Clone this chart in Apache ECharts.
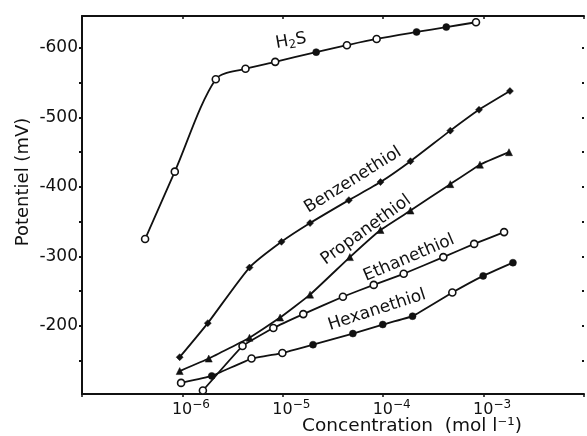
<!DOCTYPE html>
<html>
<head>
<meta charset="utf-8">
<script src="https://cdn.jsdelivr.net/npm/echarts@6/dist/echarts.min.js"></script>
<style>html,body{margin:0;padding:0;background:#fff;}#c{width:587px;height:436px;}</style>
</head>
<body>
<div id="c"></div>
<script>
// ---- data (concentration in mol/l, potential in mV) ----
const concH2S = [4.25e-7, 8.4e-7, 2.15e-6, 4.25e-6, 8.4e-6, 2.15e-5, 4.35e-5, 8.6e-5, 2.15e-4, 4.25e-4, 8.4e-4];
const potH2S  = [-325, -422, -555, -570, -580, -594, -604, -613, -623, -630, -637];

const concBenz = [9.4e-7, 1.79e-6, 4.66e-6, 9.7e-6, 1.87e-5, 4.55e-5, 9.4e-5, 1.87e-4, 4.66e-4, 9.0e-4, 1.83e-3];
const potBenz  = [-155, -204, -284, -321, -348, -381, -407, -437, -481, -511, -538];

const concProp = [9.4e-7, 1.83e-6, 4.66e-6, 9.4e-6, 1.87e-5, 4.66e-5, 9.4e-5, 1.87e-4, 4.66e-4, 9.2e-4, 1.79e-3];
const potProp  = [-135, -153, -183, -212, -245, -299, -338, -366, -404, -432, -450];

const concEth = [1.6e-6, 3.97e-6, 8.05e-6, 1.6e-5, 3.97e-5, 8.05e-5, 1.6e-4, 3.97e-4, 8.05e-4, 1.6e-3];
const potEth  = [-107, -171, -197, -217, -242, -259, -275, -299, -318, -335];

const concHex = [9.7e-7, 1.96e-6, 4.88e-6, 9.9e-6, 2.0e-5, 4.99e-5, 9.9e-5, 1.96e-4, 4.88e-4, 9.9e-4, 1.96e-3];
const potHex  = [-118, -128, -153, -161, -173, -189, -202, -214, -248, -272, -291];

const xTickExponents = [-6, -5, -4, -3];
const yLabelValues = [-600, -500, -400, -300, -200];
const yTickValues = [-600, -550, -500, -450, -400, -350, -300, -250, -200, -150];

const seriesNames = ['H\u2082S', 'Benzenethiol', 'Propanethiol', 'Ethanethiol', 'Hexanethiol'];
const xTitle = 'Concentration  (mol l\u207B\u00B9)';
const yTitle = 'Potentiel (mV)';

// ---- build ----
const FONT = 'DejaVu Sans';
const INK = '#111';

function pts(conc, pot, openIdx, symbol) {
  return conc.map((c, i) => {
    const open = openIdx.indexOf(i) >= 0;
    return {
      value: [c, pot[i]],
      symbol: open ? 'circle' : symbol,
      itemStyle: open ? {color: '#fff', borderColor: INK, borderWidth: 1.6}
                      : {color: INK, borderColor: INK, borderWidth: 0.5}
    };
  });
}

function lineSeries(name, data, smooth, size) {
  return {
    name: name, type: 'line', data: data, smooth: smooth,
    symbolSize: size, showSymbol: true,
    lineStyle: {color: INK, width: 1.8},
    itemStyle: {color: INK},
    emphasis: {disabled: true}, animation: false, z: 3
  };
}

const chart = echarts.init(document.getElementById('c'), null, {renderer: 'canvas'});

const axisLineStyle = {color: INK, width: 2};

chart.setOption({
  animation: false,
  backgroundColor: '#fff',
  grid: {left: 82, right: 0, top: 16, bottom: 42, containLabel: false},
  xAxis: [{
    type: 'log', logBase: 10, min: 1e-7, max: 1e-2, position: 'bottom',
    axisLine: {show: true, lineStyle: axisLineStyle},
    axisTick: {show: true, inside: false, length: 3, lineStyle: {color: INK, width: 1.5}},
    splitLine: {show: false}, minorTick: {show: false},
    axisLabel: {
      show: true, margin: 5, color: INK, fontFamily: FONT, fontSize: 16,
      padding: [0, 0, 0, 17],
      formatter: function (v) {
        const e = Math.round(Math.log10(v));
        if (xTickExponents.indexOf(e) < 0) return '';
        return '10{s|' + String(e).replace('-', '\u2212') + '}';
      },
      rich: {s: {fontSize: 12, fontFamily: FONT, color: INK, padding: [0, 0, 9, 0]}}
    }
  }, {
    type: 'log', logBase: 10, min: 1e-7, max: 1e-2, position: 'top',
    axisLine: {show: true, lineStyle: axisLineStyle},
    axisTick: {show: true, inside: true, length: 3, lineStyle: {color: INK, width: 1.5}},
    axisLabel: {show: false}, splitLine: {show: false}
  }],
  yAxis: [{
    type: 'value', inverse: true, min: -646, max: -102, position: 'left',
    axisLine: {show: true, lineStyle: axisLineStyle},
    axisTick: {show: true, inside: false, length: 3, customValues: yTickValues, lineStyle: {color: INK, width: 2}},
    splitLine: {show: false},
    axisLabel: {
      show: true, customValues: yLabelValues, margin: 4, color: INK, fontFamily: FONT, fontSize: 17
    }
  }, {
    type: 'value', inverse: true, min: -646, max: -102, position: 'right',
    axisLine: {show: false},
    axisTick: {show: true, inside: true, length: 2, customValues: yTickValues, lineStyle: {color: INK, width: 2}},
    axisLabel: {show: false}, splitLine: {show: false}
  }],
  series: [
    lineSeries(seriesNames[0], pts(concH2S, potH2S, [0, 1, 2, 3, 4, 6, 7, 10], 'circle'), 0.3, 7),
    lineSeries(seriesNames[1], pts(concBenz, potBenz, [], 'diamond'), 0.2, 7),
    lineSeries(seriesNames[2], pts(concProp, potProp, [], 'triangle'), 0.1, 7),
    lineSeries(seriesNames[3], pts(concEth, potEth, [0, 1, 2, 3, 4, 5, 6, 7, 8, 9], 'circle'), 0.1, 7),
    lineSeries(seriesNames[4], pts(concHex, potHex, [0, 2, 3, 8], 'circle'), 0.1, 7)
  ],
  graphic: [
    {type: 'text', x: 291, y: 41, rotation: 10 * Math.PI / 180,
     style: {text: 'H{s|2}S', rich: {s: {fontSize: 12, fontFamily: FONT, fill: INK, padding: [8, 0, 0, 0]}},
             font: '17px "DejaVu Sans"', fill: INK, align: 'center', verticalAlign: 'middle'}},
    {type: 'text', x: 353, y: 180, rotation: 32 * Math.PI / 180,
     style: {text: seriesNames[1], font: '17px "DejaVu Sans"', fill: INK, align: 'center', verticalAlign: 'middle'}},
    {type: 'text', x: 366, y: 230, rotation: 36 * Math.PI / 180,
     style: {text: seriesNames[2], font: '17px "DejaVu Sans"', fill: INK, align: 'center', verticalAlign: 'middle'}},
    {type: 'text', x: 409, y: 258, rotation: 23 * Math.PI / 180,
     style: {text: seriesNames[3], font: '17px "DejaVu Sans"', fill: INK, align: 'center', verticalAlign: 'middle'}},
    {type: 'text', x: 377, y: 310, rotation: 18 * Math.PI / 180,
     style: {text: seriesNames[4], font: '17px "DejaVu Sans"', fill: INK, align: 'center', verticalAlign: 'middle'}},
    {type: 'text', x: 412, y: 426,
     style: {text: xTitle, font: '18.5px "DejaVu Sans"', fill: INK, align: 'center', verticalAlign: 'middle'}},
    {type: 'text', x: 23, y: 182, rotation: Math.PI / 2,
     style: {text: yTitle, font: '18px "DejaVu Sans"', fill: INK, align: 'center', verticalAlign: 'middle'}}
  ]
});
</script>
</body>
</html>
